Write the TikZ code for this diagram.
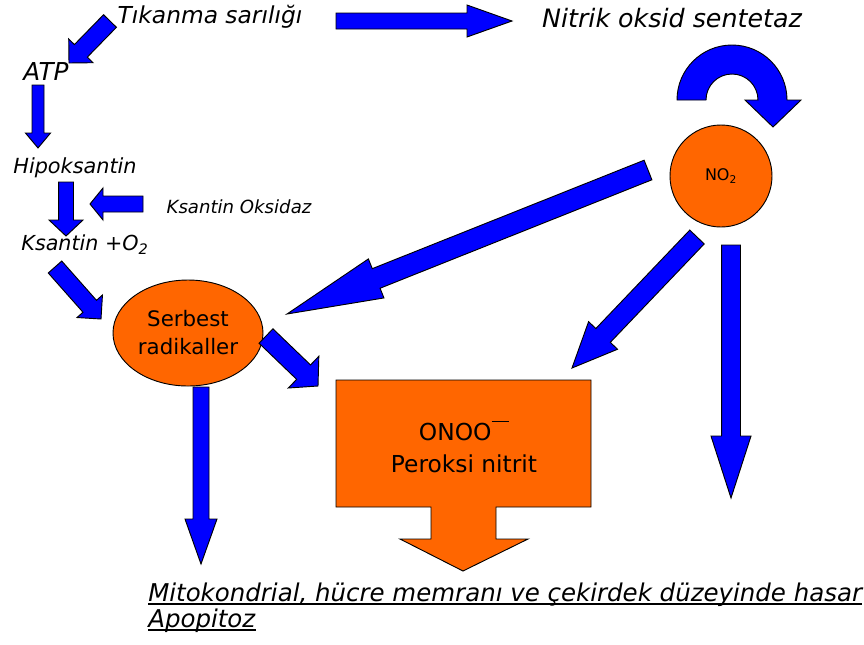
\documentclass[tikz,border=0pt]{standalone}
\usepackage{fontspec}
\setmainfont{DejaVu Sans}
\usetikzlibrary{calc,shapes.geometric}
\definecolor{arrblue}{RGB}{0,0,255}
\definecolor{orng}{RGB}{255,102,0}
% block arrow: #1 tail, #2 tip, #3 shaft half width, #4 head half width, #5 head length
\newcommand\blockarrow[5]{%
  \coordinate (ba-h) at ($(#2)!#5!(#1)$);
  \draw[barrow] ($(#1)!#3!90:(#2)$) -- ($(ba-h)!#3!90:(#2)$) -- ($(ba-h)!#4!90:(#2)$) -- (#2)
    -- ($(ba-h)!#4!-90:(#2)$) -- ($(ba-h)!#3!-90:(#2)$) -- ($(#1)!#3!-90:(#2)$) -- cycle;}
\tikzset{
  barrow/.style={fill=arrblue, draw=black, line width=0.7pt, line join=miter},
  lbl/.style={inner sep=0pt, anchor=base},
  orangeshape/.style={fill=orng, draw=black, line width=0.7pt},
}
\begin{document}
\begin{tikzpicture}[x=0.75pt,y=-0.75pt]
\useasboundingbox (0,0) rectangle (864,644);
\fill[white] (0,0) rectangle (864,644);

% text labels
\node[lbl, font=\itshape\fontsize{17.5}{21}\selectfont] (tik) at (210,23) {Tıkanma sarılığı};
\node[lbl, font=\itshape\fontsize{19}{23}\selectfont] (nos) at (672,27) {Nitrik oksid sentetaz};
\node[lbl, font=\itshape\fontsize{18.5}{22}\selectfont] (atp) at (46,80) {ATP};
\node[lbl, font=\itshape\fontsize{15.6}{19}\selectfont] (hipo) at (75,173) {Hipoksantin};
\node[lbl, font=\itshape\fontsize{13.6}{16}\selectfont] (ksox) at (239,213) {Ksantin Oksidaz};
\node[lbl, font=\itshape\fontsize{15.5}{19}\selectfont] (ks) at (85,250) {Ksantin +O\textsubscript{2}};

% shapes
\node[ellipse, orangeshape, minimum width=112.5pt, minimum height=79.5pt, inner sep=0pt,
      align=center, font=\fontsize{16}{21}\selectfont] (sr) at (188,333) {Serbest\\radikaller};
\node[circle, orangeshape, minimum size=76.5pt, inner sep=0pt,
      font=\fontsize{12}{14}\selectfont] (no) at (721,176) {NO\textsubscript{2}};

\draw[orangeshape, line join=miter] (336,380) -- (591,380) -- (591,507) -- (496,507) -- (496,539)
  -- (528,539) -- (463,571) -- (400,539) -- (431,539) -- (431,507) -- (336,507) -- cycle;
\node[align=center, inner sep=0pt, font=\fontsize{17.5}{24}\selectfont] (onoo) at (464,447)
  {ONOO\raisebox{0.8em}{\rule{0.75em}{0.07em}}\\Peroksi nitrit};

% bottom text
\node[lbl, anchor=base west, font=\itshape\fontsize{18.35}{22}\selectfont] (hasar) at (148,601)
  {Mitokondrial, hücre memranı ve çekirdek düzeyinde hasar};
\node[lbl, anchor=base west, font=\itshape\fontsize{18.35}{22}\selectfont] (apo) at (148,627) {Apopitoz};
\draw[line width=1pt] ($(hasar.base west)+(0,3)$) -- ($(hasar.base east)+(0,3)$);
\draw[line width=1pt] ($(apo.base west)+(0,3)$) -- ($(apo.base east)+(0,3)$);

% arrow end points
\coordinate (a1s) at (110,21);  \coordinate (a1e) at (69,63);
\coordinate (a2s) at (38,85);   \coordinate (a2e) at (38,148);
\coordinate (a3s) at (66,182);  \coordinate (a3e) at (66,236);
\coordinate (a4s) at (143,204); \coordinate (a4e) at (90,204);
\coordinate (a5s) at (55,267);  \coordinate (a5e) at (101,319);
\coordinate (a6s) at (336,21);  \coordinate (a6e) at (512,21);
\coordinate (a8s) at (648,170); \coordinate (a8e) at (287,314);
\coordinate (a9s) at (697,237); \coordinate (a9e) at (572,368);
\coordinate (a10s) at (731,245); \coordinate (a10e) at (731,498);
\coordinate (a11s) at (266,336); \coordinate (a11e) at (318,386);
\coordinate (a12s) at (201,387); \coordinate (a12e) at (201,564);

\blockarrow{a1s}{a1e}{6.75pt}{12.75pt}{12.75pt}
\blockarrow{a2s}{a2e}{4.5pt}{9.4pt}{11.25pt}
\blockarrow{a3s}{a3e}{5.6pt}{12.75pt}{12pt}
\blockarrow{a4s}{a4e}{6pt}{12pt}{9.75pt}
\blockarrow{a5s}{a5e}{6.75pt}{12.75pt}{12.75pt}
\blockarrow{a6s}{a6e}{6pt}{12pt}{33.75pt}
\blockarrow{a8s}{a8e}{7.9pt}{15.75pt}{72pt}
\blockarrow{a9s}{a9e}{7.5pt}{15pt}{33.75pt}
\blockarrow{a10s}{a10e}{7.1pt}{15pt}{46.5pt}
\blockarrow{a11s}{a11e}{7.5pt}{16.5pt}{15pt}
\blockarrow{a12s}{a12e}{6pt}{12pt}{33.75pt}

% curved arrow above NO2
\coordinate (cc) at (732,100);
\draw[barrow] (677,100) arc[start angle=180, end angle=360, radius=55] -- (801,100) -- (773,127)
  -- (745,100) -- (758,100) arc[start angle=0, end angle=-180, radius=26] -- cycle;
\end{tikzpicture}
\end{document}
